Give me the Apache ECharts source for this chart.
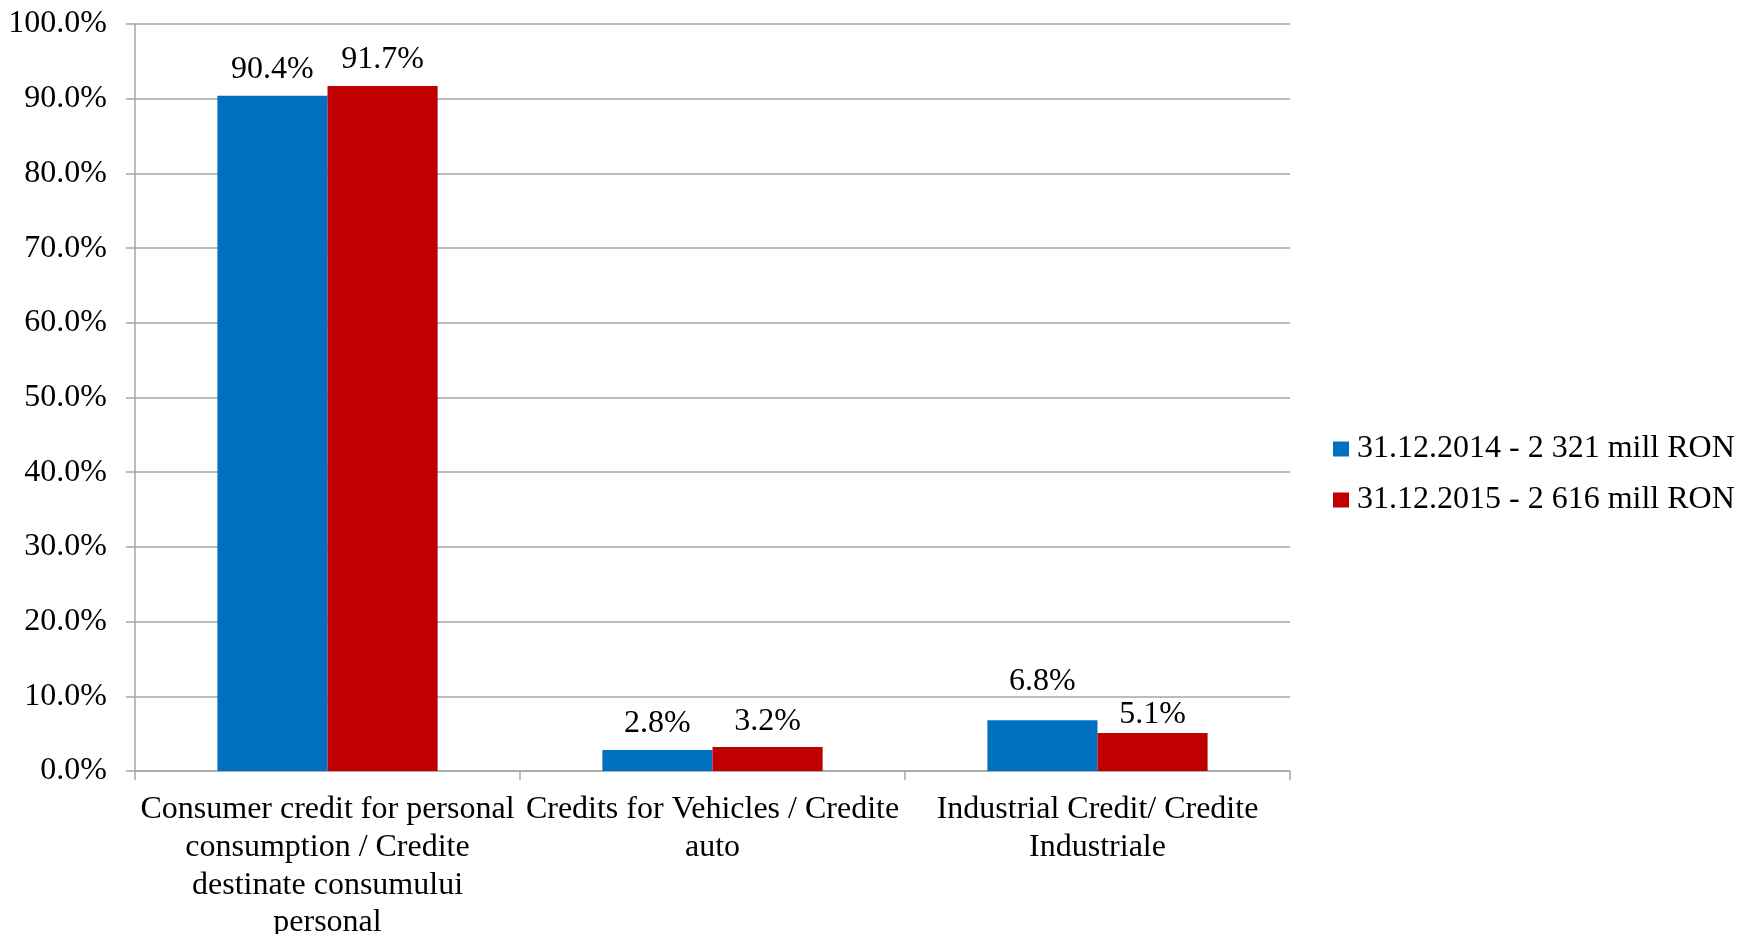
<!DOCTYPE html>
<html>
<head>
<meta charset="utf-8">
<script src="https://cdn.jsdelivr.net/npm/echarts@6/dist/echarts.min.js"></script>
<style>
html,body{margin:0;padding:0;background:#fff;}
#chart{width:1738px;height:934px;}
</style>
</head>
<body>
<div id="chart"></div>
<script>
const categories = [
  "Consumer credit for personal\nconsumption / Credite\ndestinate consumului\npersonal",
  "Credits for Vehicles / Credite\nauto",
  "Industrial Credit/ Credite\nIndustriale"
];
const seriesNames = ["31.12.2014 - 2 321 mill RON", "31.12.2015 - 2 616 mill RON"];
const values2014 = [90.4, 2.8, 6.8];
const values2015 = [91.7, 3.2, 5.1];
const yTicks = [0, 10, 20, 30, 40, 50, 60, 70, 80, 90, 100];

const FONT = "'Liberation Serif', 'Times New Roman', serif";
const FS = 32;
const labelOffsets2014 = [[0,0],[0,0],[0,-13]];
const labelOffsets2015 = [[0,0],[0,0],[0,8]];

function mk(vals, offs) {
  return vals.map((v, i) => ({ value: v, label: { offset: offs[i] } }));
}

const chart = echarts.init(document.getElementById('chart'), null, { renderer: 'canvas' });
chart.setOption({
  animation: false,
  textStyle: { fontFamily: FONT, color: '#000' },
  grid: { left: 135, right: 448, top: 24, bottom: 163, containLabel: false, outerBoundsMode: 'none' },
  legend: {
    orient: 'vertical',
    left: 1328,
    top: 428,
    itemWidth: 16,
    itemHeight: 15,
    itemGap: 19,
    icon: 'rect',
    textStyle: { fontFamily: FONT, fontSize: FS, color: '#000', padding: [0, 0, 0, 3] },
    data: seriesNames
  },
  xAxis: {
    type: 'category',
    data: categories,
    axisLine: { lineStyle: { color: '#a6a6a6', width: 1.5 } },
    axisTick: { show: true, length: 9, lineStyle: { color: '#a6a6a6', width: 1.5 } },
    axisLabel: {
      interval: 0,
      margin: 20,
      fontFamily: FONT,
      fontSize: FS,
      lineHeight: 37.7,
      color: '#000',
      align: 'center'
    }
  },
  yAxis: {
    type: 'value',
    min: yTicks[0],
    max: yTicks[yTicks.length - 1],
    interval: 10,
    axisLine: { show: true, lineStyle: { color: '#a6a6a6', width: 1.5 } },
    axisTick: { show: true, length: 9, lineStyle: { color: '#a6a6a6', width: 1.5 } },
    splitLine: { show: true, lineStyle: { color: '#a6a6a6', width: 1.5 } },
    axisLabel: {
      margin: 28,
      fontFamily: FONT,
      fontSize: FS,
      color: '#000',
      formatter: v => v.toFixed(1) + '%'
    }
  },
  series: [
    {
      name: seriesNames[0],
      type: 'bar',
      data: mk(values2014, labelOffsets2014),
      itemStyle: { color: '#0070C0' },
      barGap: '0%',
      barCategoryGap: '42.8%',
      label: {
        show: true, position: 'top', distance: 10,
        fontFamily: FONT, fontSize: FS, color: '#000',
        formatter: p => p.value.toFixed(1) + '%'
      }
    },
    {
      name: seriesNames[1],
      type: 'bar',
      data: mk(values2015, labelOffsets2015),
      itemStyle: { color: '#C00000' },
      barGap: '0%',
      barCategoryGap: '42.8%',
      label: {
        show: true, position: 'top', distance: 10,
        fontFamily: FONT, fontSize: FS, color: '#000',
        formatter: p => p.value.toFixed(1) + '%'
      }
    }
  ]
});
</script>
</body>
</html>
